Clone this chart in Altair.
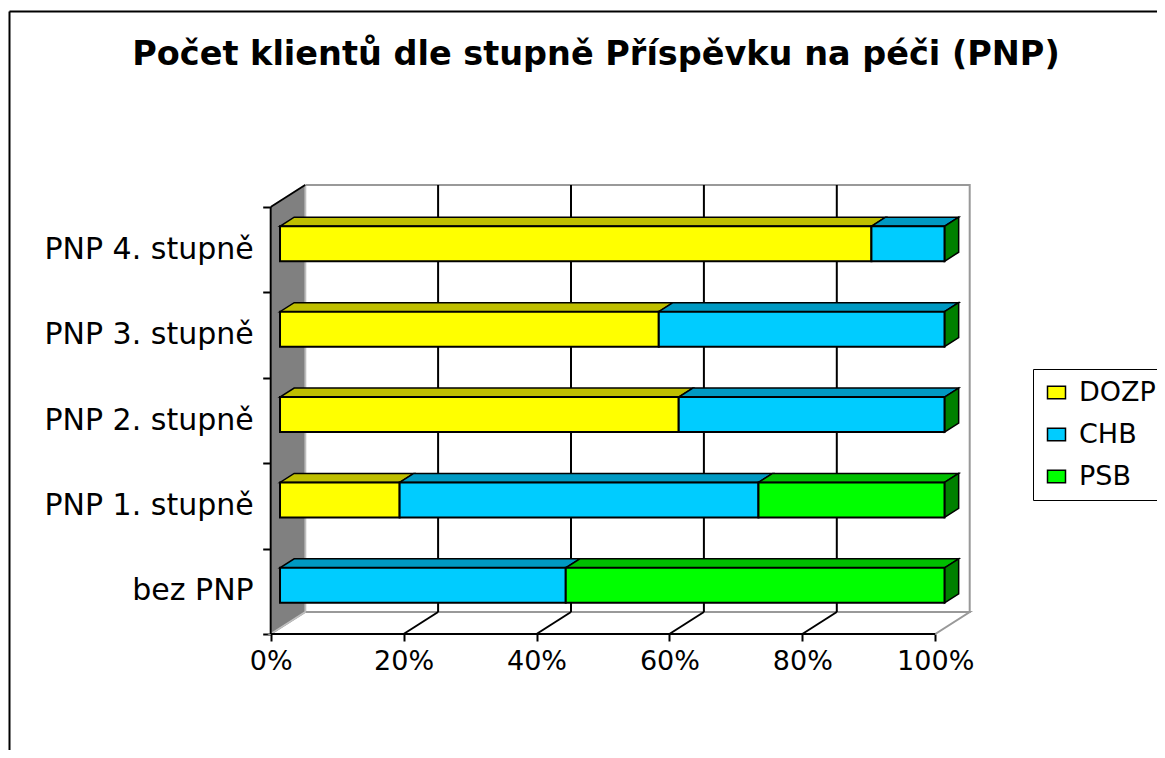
import altair as alt
import pandas as pd

# ---------------- data ----------------
categories = ["bez PNP", "PNP 1. stupně", "PNP 2. stupně", "PNP 3. stupně", "PNP 4. stupně"]
series = ["DOZP", "CHB", "PSB"]
dozp = [0, 18, 60, 57, 89]
chb = [43, 54, 40, 43, 11]
psb = [57, 28, 0, 0, 0]
x_ticks = [0, 20, 40, 60, 80, 100]
chart_title = "Počet klientů dle stupně Příspěvku na péči (PNP)"

# ---------------- styles / geometry ----------------
front_colors = ["#FFFF00", "#00CCFF", "#00FF00"]
top_colors = ["#BFBF00", "#0099C2", "#00BF00"]
side_color = "#008000"
FONT = "DejaVu Sans"

PX_X = 6.645          # pixels per percent
PX_Y = 85.4           # pixels per category
DX = 34.5 / PX_X      # depth of the 3D box (x, data units)
DY = 22.0 / PX_Y      # depth of the 3D box (y, data units)
T1, T2 = 0.27, 0.68   # bar front / back depth fraction
HALF = 17.5 / PX_Y    # half bar height
VIEW_W, VIEW_H = 1148, 739
X_MIN = -(270.7 - 9) / PX_X
X_MAX = X_MIN + VIEW_W / PX_X
Y_MIN = -(750 - 634) / PX_Y
Y_MAX = Y_MIN + VIEW_H / PX_Y

xs = alt.Scale(domain=[X_MIN, X_MAX], nice=False, zero=False)
ys = alt.Scale(domain=[Y_MIN, Y_MAX], nice=False, zero=False)

values = {"DOZP": dozp, "CHB": chb, "PSB": psb}
ddx = (T2 - T1) * DX
ddy = (T2 - T1) * DY

front_rows, top_rows, side_rows = [], [], []
for i, cat in enumerate(categories):
    cum = 0.0
    yb = i + 0.5 - HALF + T1 * DY
    yt = i + 0.5 + HALF + T1 * DY
    for k, s in enumerate(series):
        v = values[s][i]
        if v <= 0:
            continue
        x0 = cum + T1 * DX
        x1 = cum + v + T1 * DX
        front_rows.append(dict(cat=cat, series=s, x=x0, x2=x1, y=yb, y2=yt))
        pid = f"{i}-{s}"
        col = top_colors[k]
        top_rows += [
            dict(pid=pid, col=col, x=x0, y=yt, y2=yt),
            dict(pid=pid, col=col, x=x0 + ddx, y=yt, y2=yt + ddy),
            dict(pid=pid, col=col, x=x1, y=yt, y2=yt + ddy),
            dict(pid=pid, col=col, x=x1 + ddx, y=yt + ddy, y2=yt + ddy),
        ]
        cum += v
    xe = cum + T1 * DX
    pid = f"side-{i}"
    side_rows += [
        dict(pid=pid, y=yb, x=xe, x2=xe),
        dict(pid=pid, y=yb + ddy, x=xe, x2=xe + ddx),
        dict(pid=pid, y=yt, x=xe, x2=xe + ddx),
        dict(pid=pid, y=yt + ddy, x=xe + ddx, x2=xe + ddx),
    ]

front_df = pd.DataFrame(front_rows)
top_df = pd.DataFrame(top_rows)
side_df = pd.DataFrame(side_rows)

n_cat = len(categories)
x_end = x_ticks[-1]
floor_df = pd.DataFrame([
    dict(x=0, y=0, y2=0),
    dict(x=DX, y=0, y2=DY),
    dict(x=x_end, y=0, y2=DY),
    dict(x=x_end + DX, y=DY, y2=DY),
])
lwall_df = pd.DataFrame([
    dict(y=0, x=0, x2=0),
    dict(y=DY, x=0, x2=DX),
    dict(y=n_cat, x=0, x2=DX),
    dict(y=n_cat + DY, x=DX, x2=DX),
])
bwall_df = pd.DataFrame([dict(x=DX, x2=x_end + DX, y=DY, y2=n_cat + DY)])
grid_rows = []
for t in x_ticks[1:-1]:
    grid_rows.append(dict(x=t + DX, x2=t + DX, y=DY, y2=n_cat + DY))
    grid_rows.append(dict(x=t, x2=t + DX, y=0, y2=DY))
grid_df = pd.DataFrame(grid_rows)
edge_df = pd.DataFrame([
    dict(x=0, x2=DX, y=n_cat, y2=n_cat + DY),   # top edge of side wall
    dict(x=0, x2=x_end, y=0, y2=0),             # front x axis line
    dict(x=0, x2=0, y=0, y2=n_cat),             # y axis line
])
label_df = pd.DataFrame(dict(label=categories, x=[0] * n_cat, y=[i + 0.5 for i in range(n_cat)]))

# ---------------- axes ----------------
ax_bottom = alt.Axis(orient="bottom", offset=-116, values=x_ticks, domain=False, grid=False,
                     ticks=True, tickSize=7, tickWidth=2, tickColor="black",
                     labelExpr="datum.value + '%'", labelFont=FONT, labelFontSize=27,
                     labelColor="black", labelPadding=7, labelFlush=False, labelOverlap=False,
                     title=None)
ay_ticks = alt.Axis(orient="left", offset=-261.7, values=list(range(n_cat + 1)), domain=False,
                    grid=False, ticks=True, tickSize=8, tickWidth=2, tickColor="black",
                    labels=False, title=None)
ax_top = alt.Axis(orient="top", offset=0, domain=True, domainColor="black", domainWidth=2,
                  ticks=False, labels=False, grid=False, title=None)
ay_border = alt.Axis(orient="left", offset=0, domain=True, domainColor="black", domainWidth=2,
                     ticks=False, labels=False, grid=False, title=None)

# ---------------- layers ----------------
floor = alt.Chart(floor_df).mark_area(orient="vertical", fill="white", stroke="#999999",
                                      strokeWidth=2).encode(
    x=alt.X("x:Q", scale=xs, axis=ax_bottom),
    y=alt.Y("y:Q", scale=ys, axis=ay_ticks),
    y2="y2:Q",
)
bwall = alt.Chart(bwall_df).mark_rect(fill="white", stroke="#999999", strokeWidth=2).encode(
    x=alt.X("x:Q", scale=xs, axis=ax_top), x2="x2:Q",
    y=alt.Y("y:Q", scale=ys, axis=ay_border), y2="y2:Q",
)
grid = alt.Chart(grid_df).mark_rule(color="black", strokeWidth=2).encode(
    x=alt.X("x:Q", scale=xs, axis=None), x2="x2:Q",
    y=alt.Y("y:Q", scale=ys, axis=None), y2="y2:Q",
)
lwall = alt.Chart(lwall_df).mark_area(orient="horizontal", fill="#808080", stroke="#C0C0C0",
                                      strokeWidth=1.5).encode(
    y=alt.Y("y:Q", scale=ys, axis=None),
    x=alt.X("x:Q", scale=xs, axis=None), x2="x2:Q",
)
edges = alt.Chart(edge_df).mark_rule(color="black", strokeWidth=2).encode(
    x=alt.X("x:Q", scale=xs, axis=None), x2="x2:Q",
    y=alt.Y("y:Q", scale=ys, axis=None), y2="y2:Q",
)
tops = alt.Chart(top_df).mark_area(orient="vertical", stroke="black", strokeWidth=1.5).encode(
    x=alt.X("x:Q", scale=xs, axis=None),
    y=alt.Y("y:Q", scale=ys, axis=None), y2="y2:Q",
    fill=alt.Fill("col:N", scale=None),
    detail="pid:N",
)
sides = alt.Chart(side_df).mark_area(orient="horizontal", fill=side_color, stroke="black",
                                     strokeWidth=1.5).encode(
    y=alt.Y("y:Q", scale=ys, axis=None),
    x=alt.X("x:Q", scale=xs, axis=None), x2="x2:Q",
    detail="pid:N",
)
fronts = alt.Chart(front_df).mark_rect(stroke="black", strokeWidth=2).encode(
    x=alt.X("x:Q", scale=xs, axis=None), x2="x2:Q",
    y=alt.Y("y:Q", scale=ys, axis=None), y2="y2:Q",
    color=alt.Color("series:N", scale=alt.Scale(domain=series, range=front_colors),
                    sort=series,
                    legend=alt.Legend(orient="none", legendX=1024, legendY=358, title=None,
                                      symbolType="M-1,-0.7H1V0.7H-1Z", symbolSize=324,
                                      symbolStrokeColor="black", symbolStrokeWidth=1.5,
                                      symbolOpacity=1,
                                      labelFont=FONT, labelFontSize=27, labelColor="black",
                                      labelExpr="datum.label + '      '",
                                      labelOffset=9, padding=10, rowPadding=14,
                                      strokeColor="black", fillColor="white")),
)
labels = alt.Chart(label_df).mark_text(align="right", baseline="middle", dx=-17, font=FONT,
                                       fontSize=30, color="black").encode(
    x=alt.X("x:Q", scale=xs, axis=None),
    y=alt.Y("y:Q", scale=ys, axis=None),
    text="label:N",
)

chart = alt.layer(floor, bwall, grid, lwall, edges, tops, sides, fronts, labels).resolve_axis(
    x="independent", y="independent"
).properties(
    width=VIEW_W, height=VIEW_H,
    autosize=alt.AutoSizeParams(type="none"),
    padding={"left": 1, "top": 3, "right": 0, "bottom": 0},
    title=alt.TitleParams(text=chart_title, font=FONT, fontSize=33.5, fontWeight="bold",
                          color="black", anchor="middle", offset=-61, dx=13),
).configure_view(stroke=None).configure(background="white")

chart.save("out.html", embed_options={"renderer": "svg", "actions": False})
